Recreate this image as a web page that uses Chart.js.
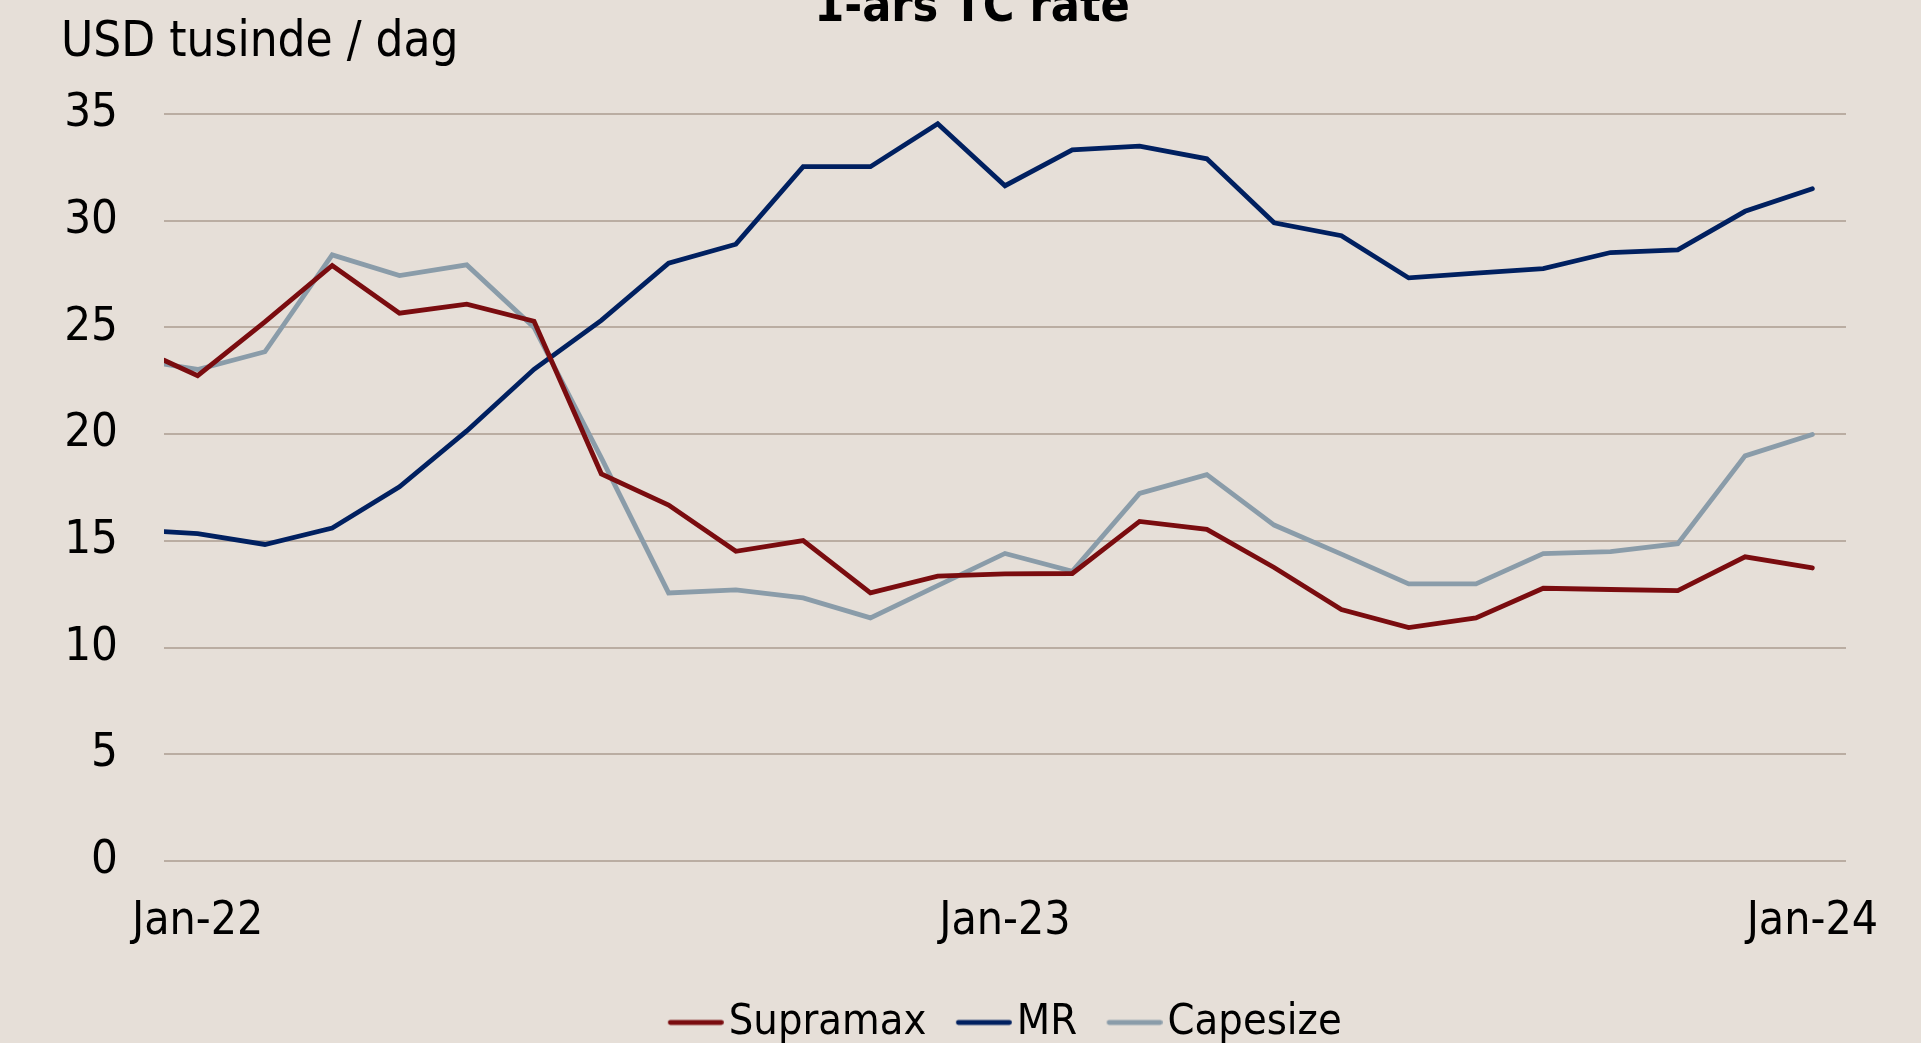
<!DOCTYPE html>
<html>
<head>
<meta charset="utf-8">
<script src="https://cdn.jsdelivr.net/npm/chart.js@4.4.1/dist/chart.umd.min.js"></script>
<style>
html, body { margin: 0; padding: 0; background: #E6DFD8; overflow: hidden; width: 1921px; height: 1043px; }
#c { position: absolute; left: 0; top: -40px; }
</style>
</head>
<body>
<canvas id="c" width="1921" height="1100"></canvas>
<script>
// Months since Jan 2022 (first observation mid-Dec 2021)
const months = [-0.5, 0, 1, 2, 3, 4, 5, 6, 7, 8, 9, 10, 11, 12, 13, 14, 15, 16, 17, 18, 19, 20, 21, 22, 23, 24];
const supramax = [23.46, 22.74, 25.26, 27.9, 25.67, 26.09, 25.29, 18.14, 16.68, 14.51, 15.01, 12.56, 13.35, 13.45, 13.47, 15.91, 15.54, 13.75, 11.78, 10.94, 11.39, 12.78, 12.72, 12.67, 14.25, 13.73];
const mr = [15.43, 15.34, 14.83, 15.6, 17.53, 20.15, 23.04, 25.33, 28.01, 28.9, 32.53, 32.53, 34.54, 31.64, 33.32, 33.49, 32.9, 29.9, 29.3, 27.32, 27.54, 27.76, 28.51, 28.63, 30.44, 31.5];
const capesize = [23.28, 23.03, 23.86, 28.4, 27.43, 27.93, 25.0, 18.89, 12.56, 12.7, 12.33, 11.39, 12.9, 14.41, 13.57, 17.22, 18.1, 15.74, 14.38, 12.98, 12.98, 14.4, 14.5, 14.87, 18.98, 19.98];
const seriesNames = ['Supramax', 'MR', 'Capesize'];
const xTickValues = [0, 12, 24];
const xTickLabels = ['Jan-22', 'Jan-23', 'Jan-24'];
const chartTitle = '1-års TC rate';
const yAxisTitle = 'USD tusinde / dag';

const FONT = "'DejaVu Sans Condensed', 'Liberation Sans Narrow', 'Arial Narrow', sans-serif";
const COLORS = ['#7A0C0F', '#002060', '#8A9CA9'];

function legendMarker(color) {
  const c = document.createElement('canvas');
  c.width = 72; c.height = 10;
  const g = c.getContext('2d');
  g.strokeStyle = color; g.lineWidth = 4.8; g.lineCap = 'round';
  g.beginPath(); g.moveTo(18.5, 5); g.lineTo(69.5, 5); g.stroke();
  return c;
}

function toPoints(values) { return values.map((v, i) => ({ x: months[i], y: v })); }

const headingPlugin = {
  id: 'headings',
  afterDraw(chart) {
    const ctx = chart.ctx;
    ctx.save();
    ctx.fillStyle = '#000';
    ctx.textBaseline = 'alphabetic';
    ctx.textAlign = 'center';
    ctx.font = 'bold 48px ' + FONT;
    ctx.fillText(chartTitle, 972, 61);
    ctx.textAlign = 'left';
    ctx.font = '49px ' + FONT;
    ctx.fillText(yAxisTitle, 61, 96);
    ctx.restore();
  }
};

const seriesData = [supramax, mr, capesize];

new Chart(document.getElementById('c'), {
  type: 'line',
  data: {
    datasets: seriesData.map((vals, i) => ({
      label: seriesNames[i],
      data: toPoints(vals),
      borderColor: COLORS[i],
      backgroundColor: COLORS[i],
      borderWidth: 4.8,
      borderCapStyle: 'round',
      pointRadius: 0,
      pointHoverRadius: 0,
      pointStyle: legendMarker(COLORS[i]),
      tension: 0,
      fill: false
    }))
  },
  options: {
    responsive: false,
    animation: false,
    devicePixelRatio: 1,
    layout: { padding: { left: 0, right: 75, top: 154, bottom: 6 } },
    plugins: {
      title: { display: false },
      legend: {
        display: true,
        position: 'bottom',
        fullSize: false,
        labels: {
          usePointStyle: true,
          pointStyleWidth: 39,
          padding: 30,
          color: '#000',
          font: { family: FONT, size: 43 }
        }
      },
      tooltip: { enabled: false }
    },
    scales: {
      x: {
        type: 'linear',
        min: -0.5,
        max: 24.5,
        grid: { display: false },
        border: { display: false },
        afterBuildTicks(scale) { scale.ticks = xTickValues.map(v => ({ value: v })); },
        afterFit(scale) { scale.height = 110; },
        ticks: {
          autoSkip: false,
          maxRotation: 0,
          padding: 25,
          color: '#000',
          font: { family: FONT, size: 46 },
          callback(value) { const i = xTickValues.indexOf(value); return i >= 0 ? xTickLabels[i] : ''; }
        }
      },
      y: {
        min: 0,
        max: 35,
        grid: { color: '#BAADA2', lineWidth: 2, drawTicks: false },
        border: { display: false },
        afterFit(scale) { scale.width = 164; },
        ticks: {
          stepSize: 5,
          padding: 46,
          color: '#000',
          font: { family: FONT, size: 47 }
        }
      }
    }
  },
  plugins: [headingPlugin]
});
</script>
</body>
</html>
